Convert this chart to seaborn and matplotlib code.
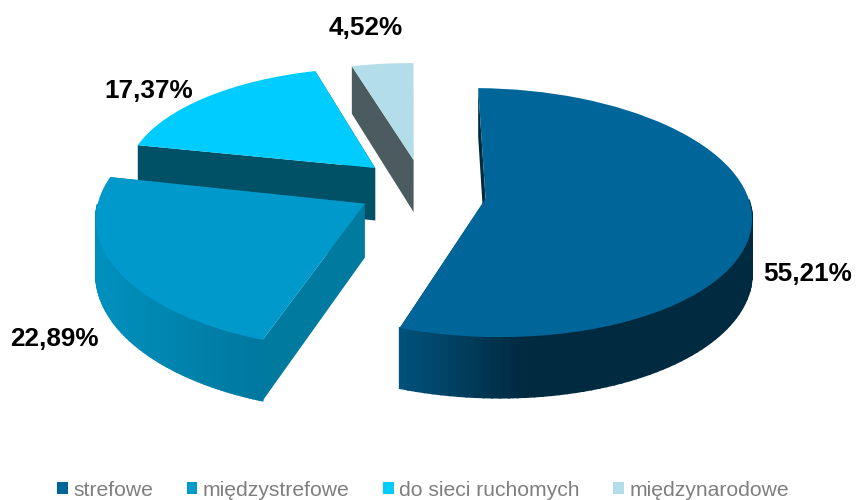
import numpy as np
import matplotlib
matplotlib.use("Agg")
import matplotlib.pyplot as plt
from matplotlib.patches import Patch
from matplotlib.transforms import Transform
import seaborn as sns

categories = ["strefowe", "międzystrefowe", "do sieci ruchomych", "międzynarodowe"]
shares = [55.21, 22.89, 17.37, 4.52]

# styles
top_colors = ["#006699", "#0099cc", "#00ccff", "#b3dde8"]
cut_colors = ["#002a40", "#007a9e", "#005066", "#4b5b60"]
rim_colors = [["#00527c", "#002a40", "#002a40"], ["#0090bd", "#00789f"], ["#00506a", "#00506a"], ["#4b5b60", "#4b5b60"]]
rim_range = [(400, 640), (100, 258), (130, 320), (350, 415)]
# layout: exploded offset and apparent size of each slice in the pie plane
offsets = [(0.435, 0.01), (-0.02, -0.03), (0.02, 0.27), (0.17, 0.34)]
sizes = [(0.99, 1.01), (1.0, 1.05), (0.96, 0.96), (0.94, 0.94)]
label_pos = [(808, 274), (54, 339), (149, 91), (366, 28)]
CX, CY, A, B, K, DEPTH = 370, 200, 266, 122, 0.11, 54
START = 89


def project(xy, off, s, z=0.0):
    xy = np.asarray(xy, float)
    X = xy[..., 0] * s[0] + off[0]
    Y = xy[..., 1] * s[1] + off[1]
    w = 1 + K * Y
    return np.stack([CX + A * X / w, CY + (z * DEPTH - B * Y) / w], axis=-1)


class Tilt(Transform):
    input_dims = output_dims = 2
    is_separable = False
    has_inverse = False

    def __init__(self, off, s):
        super().__init__()
        self.off = off
        self.s = s

    def transform_non_affine(self, values):
        return project(values, self.off, self.s)


sns.set_theme(style="white")
plt.rcParams["font.family"] = ["Liberation Sans", "DejaVu Sans"]

fig = plt.figure(figsize=(8.57, 5), dpi=100, facecolor="white")
ax = fig.add_axes([0, 0, 1, 1])

wedges, _ = ax.pie(shares, colors=top_colors, startangle=START, counterclock=False, radius=1, wedgeprops=dict(linewidth=0))
ax.set_aspect("auto")
ax.set_xlim(0, 857)
ax.set_ylim(500, 0)
ax.axis("off")

edges = START - np.cumsum([0] + shares) / sum(shares) * 360
# painter's order: far slices first
order = [3, 2, 1, 0]
for z, i in enumerate(order):
    off, s = offsets[i], sizes[i]
    base = 2 + z * 3
    t0, t1 = edges[i], edges[i + 1]
    for t in (t0, t1):
        end = np.array([np.cos(np.radians(t)), np.sin(np.radians(t))])
        q = np.array([project([0, 0], off, s), project(end, off, s), project(end, off, s, 1), project([0, 0], off, s, 1)])
        ax.fill(q[:, 0], q[:, 1], color=cut_colors[i], lw=0, zorder=base)
    n = 120
    ang = np.radians(np.linspace(t0, t1, n + 1))
    ring = np.stack([np.cos(ang), np.sin(ang)], axis=1)
    topr, botr = project(ring, off, s), project(ring, off, s, 1)
    pal = sns.blend_palette(rim_colors[i], 64)
    seq = np.argsort(-(ring[:-1, 1] + ring[1:, 1]))
    for j in seq:
        if ring[j, 1] > 0.0 or ring[j + 1, 1] > 0.0:
            continue  # back of the rim is hidden behind the top face
        q = np.array([topr[j], topr[j + 1], botr[j + 1], botr[j]])
        f = np.clip((q[:, 0].mean() - rim_range[i][0]) / (rim_range[i][1] - rim_range[i][0]), 0, 1)
        c = pal[int(f * 63)]
        ax.fill(q[:, 0], q[:, 1], color=c, ec=c, lw=1.2, zorder=base + 1)
    wedges[i].set_transform(Tilt(off, s) + ax.transData)
    wedges[i].set_zorder(base + 2)
    wedges[i].set_clip_on(False)

for v, (x, y) in zip(shares, label_pos):
    ax.text(x, y, f"{v:.2f}%".replace(".", ","), ha="center", va="center", fontsize=18.8, fontweight="bold", color="black", zorder=30)

handles = [Patch(facecolor=c, edgecolor="none", label=l) for c, l in zip(top_colors, categories)]
ax.legend(handles=handles, loc="center", bbox_to_anchor=(423, 490), bbox_transform=ax.transData, ncol=4, frameon=False,
          fontsize=15.2, labelcolor="#7f7f7f", handlelength=0.5, handleheight=0.5, handletextpad=0.25, columnspacing=1.6, borderpad=0, borderaxespad=0)

fig.savefig("out.png", dpi=100)
